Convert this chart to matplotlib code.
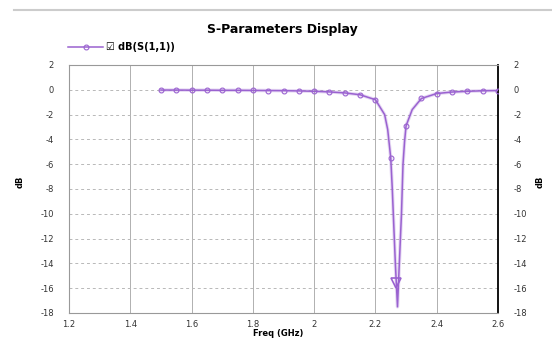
import matplotlib.pyplot as plt
from matplotlib.lines import Line2D

plt.rcParams['axes.unicode_minus'] = False

# S11 sweep (GHz, dB)
freq = [1.50, 1.55, 1.60, 1.65, 1.70, 1.75, 1.80, 1.85, 1.90, 1.95, 2.00,
        2.05, 2.10, 2.15, 2.20, 2.23, 2.24, 2.25, 2.255, 2.26, 2.265, 2.272,
        2.278, 2.285, 2.29, 2.295, 2.30, 2.32, 2.35, 2.40, 2.45, 2.50, 2.55, 2.60]
s11 = [-0.02, -0.02, -0.03, -0.03, -0.04, -0.04, -0.05, -0.06, -0.07, -0.09, -0.12,
       -0.17, -0.25, -0.40, -0.80, -2.0, -3.2, -5.5, -8.0, -11.0, -14.0, -17.5,
       -14.0, -10.0, -6.0, -4.2, -2.9, -1.6, -0.70, -0.30, -0.18, -0.12, -0.08, -0.06]
marker_freq = [1.50 + 0.05 * i for i in range(23)]
m1 = (2.268, -15.6)

xticks = [1.2, 1.4, 1.6, 1.8, 2.0, 2.2, 2.4, 2.6]
xtick_labels = ['1.2', '1.4', '1.6', '1.8', '2', '2.2', '2.4', '2.6']
yticks = list(range(-18, 3, 2))

purple = '#9a62d0'

fig = plt.figure(figsize=(5.52, 3.4), dpi=100)
ax = fig.add_axes([69 / 552, 1 - 313 / 340, (498 - 69) / 552, (313 - 65) / 340])

marks = [min(range(len(freq)), key=lambda i: abs(freq[i] - f)) for f in marker_freq]
ax.plot(freq, s11, color=purple, lw=2.5, alpha=0.25, zorder=2)
ax.plot(freq, s11, color=purple, lw=1.1, marker='o', ms=3.5, mfc='none',
        mec=purple, mew=0.8, markevery=marks, zorder=3)
ax.plot([m1[0]], [m1[1]], marker='v', ms=7, mfc='none', mec=purple, mew=1.2, zorder=4)

ax.set_xlim(1.2, 2.6)
ax.set_ylim(-18, 2)
ax.set_xticks(xticks)
ax.set_xticklabels(xtick_labels)
ax.set_yticks(yticks)
ax.grid(True, axis='x', color='#b0b0b0', lw=0.7)
ax.grid(True, axis='y', color='#b8b8b8', lw=0.7, ls=(0, (3, 3)))
ax.tick_params(length=0, labelsize=6, colors='#333333')
ax.tick_params(axis='y', labelright=True, pad=11)
ax.tick_params(axis='x', pad=5)
for side in ['left', 'bottom', 'top']:
    ax.spines[side].set_color('#999999')
ax.spines['right'].set_color('black')
ax.spines['right'].set_linewidth(1.3)

fig.text(282 / 552, 1 - 29 / 340, 'S-Parameters Display', ha='center', va='center',
         fontsize=9, fontweight='bold')
fig.text(278 / 552, 1 - 334 / 340, 'Freq (GHz)', ha='center', va='center',
         fontsize=6, fontweight='bold')
fig.text(20 / 552, 1 - 182 / 340, 'dB', ha='center', va='center', rotation=90,
         fontsize=6, fontweight='bold')
fig.text(540 / 552, 1 - 182 / 340, 'dB', ha='center', va='center', rotation=90,
         fontsize=6, fontweight='bold')

# legend entry, top left
fig.add_artist(Line2D([68 / 552, 103 / 552], [1 - 47 / 340] * 2, color=purple, lw=1.1))
fig.add_artist(Line2D([86 / 552], [1 - 47 / 340], color=purple, marker='o', ms=3.5,
                      mfc='none', mew=0.8))
fig.text(106 / 552, 1 - 47 / 340, '☑ dB(S(1,1))', ha='left', va='center',
         fontsize=7, fontweight='bold')

# thin gray rule at the very top
fig.add_artist(Line2D([14 / 552, 1], [1 - 10 / 340] * 2, color='#cccccc', lw=1.5))

fig.savefig('out.png', dpi=100)
